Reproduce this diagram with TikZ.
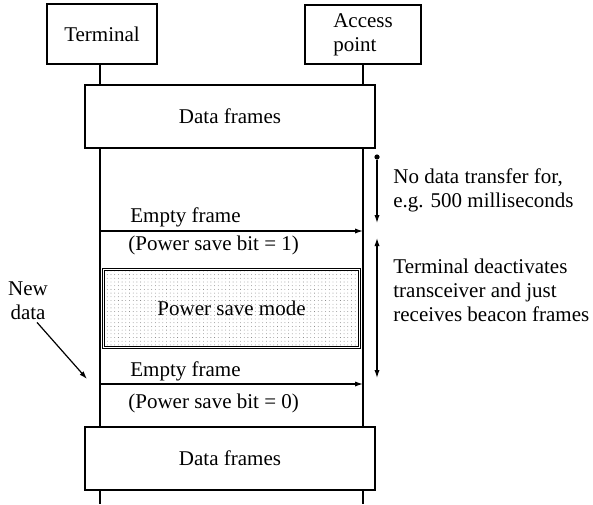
\documentclass[tikz,border=0pt]{standalone}
\usepackage{fontspec}
\setmainfont{Liberation Serif}
\usetikzlibrary{arrows.meta,patterns.meta}

\begin{document}
\begin{tikzpicture}[x=0.5pt, y=-0.5pt, >={Latex[length=4pt,width=2.6pt]},
        every node/.style={font=\fontsize{10.5}{12}\selectfont},
        ent/.style={draw, line width=0.8pt, fill=white, inner sep=2pt},
        frm/.style={draw, line width=0.8pt, fill=white, minimum width=145pt, minimum height=31.5pt},
        psm/.style={draw, line width=0.6pt, double, double distance=0.4pt, pattern={Dots[distance=1.85pt, radius=0.22pt]}, pattern color=black!55, minimum width=128pt, minimum height=39pt},
        lbl/.style={anchor=west, inner sep=0pt}]
        \useasboundingbox (0,0) rectangle (593,504);
        
        \node [ent, minimum width=55pt, minimum height=30pt] (term) at (102,34) {Terminal};
        \node [ent, minimum width=58pt, minimum height=29.5pt, align=left] (ap) at (363,34.5) {Access\\point};
        \coordinate (tend) at (100,504);
        \coordinate (aend) at (363,504);
        
        \begin{scope}[line width=1.4pt]
        \draw (term.south -| tend) -- (tend);
        \draw (ap.south) -- (aend);
        \end{scope}
        
        \node [frm] (df1) at (230,116.5) {Data frames};
        \node [frm] (df2) at (230,458.5) {Data frames};
        \node [psm] (ps) at (231.5,308.5) {Power save mode};
        
        \coordinate (e1a) at (100,231);
        \coordinate (e1b) at (363,231);
        \coordinate (e2a) at (100,384);
        \coordinate (e2b) at (363,384);
        
        \node [lbl] (ef1) at (130,217) {Empty frame};
        \node [lbl] (pb1) at (128,245) {(Power save bit = 1)};
        \node [lbl] (ef2) at (130,371) {Empty frame};
        \node [lbl] (pb2) at (128,403) {(Power save bit = 0)};
        
        \node [circle, fill, inner sep=0pt, minimum size=2.6pt] (dot) at (377,157) {};
        \coordinate (d1) at (377,223);
        \coordinate (u1) at (377,238);
        \coordinate (u2) at (377,378);
        
        \node [lbl, align=left] (nodata) at (393,190.5) {No data transfer for,\\e.g. 500 milliseconds};
        \node [lbl, align=left] (deact) at (393,290) {Terminal deactivates\\transceiver and just\\receives beacon frames};
        
        \node [align=center, inner sep=1pt] (newdata) at (28,301) {New\\data};
        \coordinate (ndtip) at (87,379);
        
        \begin{scope}[line width=0.6pt,->]
        \draw (e1a) -- (e1b);
        \draw (e2a) -- (e2b);
        \draw (dot) -- (d1);
        \draw [<->] (u1) -- (u2);
        \draw ([xshift=4.5pt]newdata.south) -- (ndtip);
        \end{scope}
        
        \end{tikzpicture}
\end{document}
